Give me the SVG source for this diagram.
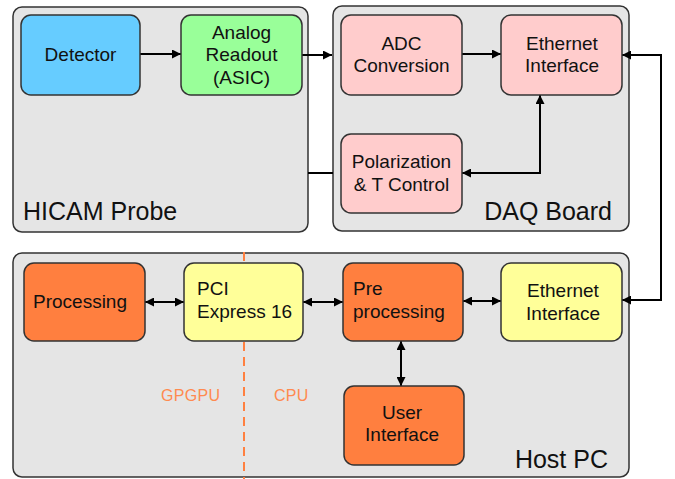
<svg xmlns="http://www.w3.org/2000/svg" width="675" height="479" viewBox="0 0 675 479">
<defs>
<style>
.cont{fill:#e5e5e5;stroke:#333;stroke-width:1.5}
.node{stroke:#333;stroke-width:1.5}
.blue{fill:#66ccff}.green{fill:#99ff99}.pink{fill:#ffcccc}.orange{fill:#ff7f3f}.yellow{fill:#ffff99}
text{font-family:"Liberation Sans",Arial,sans-serif;fill:#111}
.lbl{font-size:19px}
.big{font-size:25px}
.cpu{font-size:16px;letter-spacing:0.3px;fill:#ff8a50}
.conn{fill:none;stroke:#000;stroke-width:2}
</style>
<marker id="ah" viewBox="0 0 10 10" refX="10" refY="5" markerWidth="11" markerHeight="9" markerUnits="userSpaceOnUse" orient="auto-start-reverse">
<path d="M0,0 L10,5 L0,10 z" fill="#000"/>
</marker>
</defs>
<rect width="675" height="479" fill="#fff"/>
<g id="hicam-probe">
<rect class="cont" x="13" y="7" width="295" height="225" rx="9"/>
<text class="big" x="23" y="220">HICAM Probe</text>
</g>
<g id="daq-board">
<rect class="cont" x="333" y="6" width="296" height="225" rx="9"/>
<text class="big" x="612" y="220" text-anchor="end">DAQ Board</text>
</g>
<g id="host-pc">
<rect class="cont" x="13" y="253" width="616" height="224" rx="9"/>
<text class="big" x="608" y="468" text-anchor="end">Host PC</text>
</g>
<line id="gpu-cpu-divider" x1="244" y1="252" x2="244" y2="479" stroke="#ff8040" stroke-width="2" stroke-dasharray="9,6"/>
<text class="cpu" x="161" y="401">GPGPU</text>
<text class="cpu" x="274" y="401">CPU</text>
<g id="connectors">
<line class="conn" x1="140" y1="54" x2="181" y2="54" marker-end="url(#ah)"/>
<line class="conn" x1="302" y1="55" x2="332" y2="55" marker-end="url(#ah)"/>
<line class="conn" x1="462" y1="54" x2="501" y2="54" marker-end="url(#ah)"/>
<path class="conn" d="M540,95 V173 H462" marker-start="url(#ah)" marker-end="url(#ah)"/>
<line class="conn" x1="308" y1="173" x2="333" y2="173"/>
<path class="conn" d="M622,55 H661 V300 H622" marker-start="url(#ah)" marker-end="url(#ah)"/>
<line class="conn" x1="145" y1="302" x2="184" y2="302" marker-start="url(#ah)" marker-end="url(#ah)"/>
<line class="conn" x1="303" y1="302" x2="343" y2="302" marker-start="url(#ah)" marker-end="url(#ah)"/>
<line class="conn" x1="463" y1="301" x2="501" y2="301" marker-start="url(#ah)" marker-end="url(#ah)"/>
<line class="conn" x1="401" y1="341" x2="401" y2="386" marker-start="url(#ah)" marker-end="url(#ah)"/>
</g>
<g id="detector">
<rect class="node blue" x="21" y="15" width="119" height="80" rx="10"/>
<text class="lbl" x="80.5" y="61" text-anchor="middle">Detector</text>
</g>
<g id="analog-readout">
<rect class="node green" x="181" y="15" width="121" height="80" rx="10"/>
<text class="lbl" text-anchor="middle"><tspan x="241.5" y="39">Analog</tspan><tspan x="241.5" y="61">Readout</tspan><tspan x="241.5" y="84">(ASIC)</tspan></text>
</g>
<g id="adc-conversion">
<rect class="node pink" x="341" y="15" width="121" height="80" rx="10"/>
<text class="lbl" text-anchor="middle"><tspan x="401.5" y="50">ADC</tspan><tspan x="401.5" y="72">Conversion</tspan></text>
</g>
<g id="daq-ethernet">
<rect class="node pink" x="501" y="15" width="121" height="80" rx="10"/>
<text class="lbl" text-anchor="middle"><tspan x="562" y="50">Ethernet</tspan><tspan x="562" y="72">Interface</tspan></text>
</g>
<g id="polarization">
<rect class="node pink" x="341" y="134" width="121" height="79" rx="10"/>
<text class="lbl" text-anchor="middle"><tspan x="401.5" y="168">Polarization</tspan><tspan x="401.5" y="191">&amp; T Control</tspan></text>
</g>
<g id="processing">
<rect class="node orange" x="24" y="263" width="121" height="78" rx="10"/>
<text class="lbl" x="33" y="308">Processing</text>
</g>
<g id="pci-express">
<rect class="node yellow" x="184" y="263" width="119" height="78" rx="10"/>
<text class="lbl"><tspan x="197" y="295">PCI</tspan><tspan x="197" y="318">Express 16</tspan></text>
</g>
<g id="preprocessing">
<rect class="node orange" x="343" y="263" width="120" height="78" rx="10"/>
<text class="lbl"><tspan x="353" y="295">Pre</tspan><tspan x="353" y="318">processing</tspan></text>
</g>
<g id="host-ethernet">
<rect class="node yellow" x="501" y="263" width="121" height="78" rx="10"/>
<text class="lbl" text-anchor="middle"><tspan x="563" y="297">Ethernet</tspan><tspan x="563" y="320">Interface</tspan></text>
</g>
<g id="user-interface">
<rect class="node orange" x="344" y="386" width="120" height="79" rx="10"/>
<text class="lbl" text-anchor="middle"><tspan x="402" y="419">User</tspan><tspan x="402" y="441">Interface</tspan></text>
</g>
</svg>
